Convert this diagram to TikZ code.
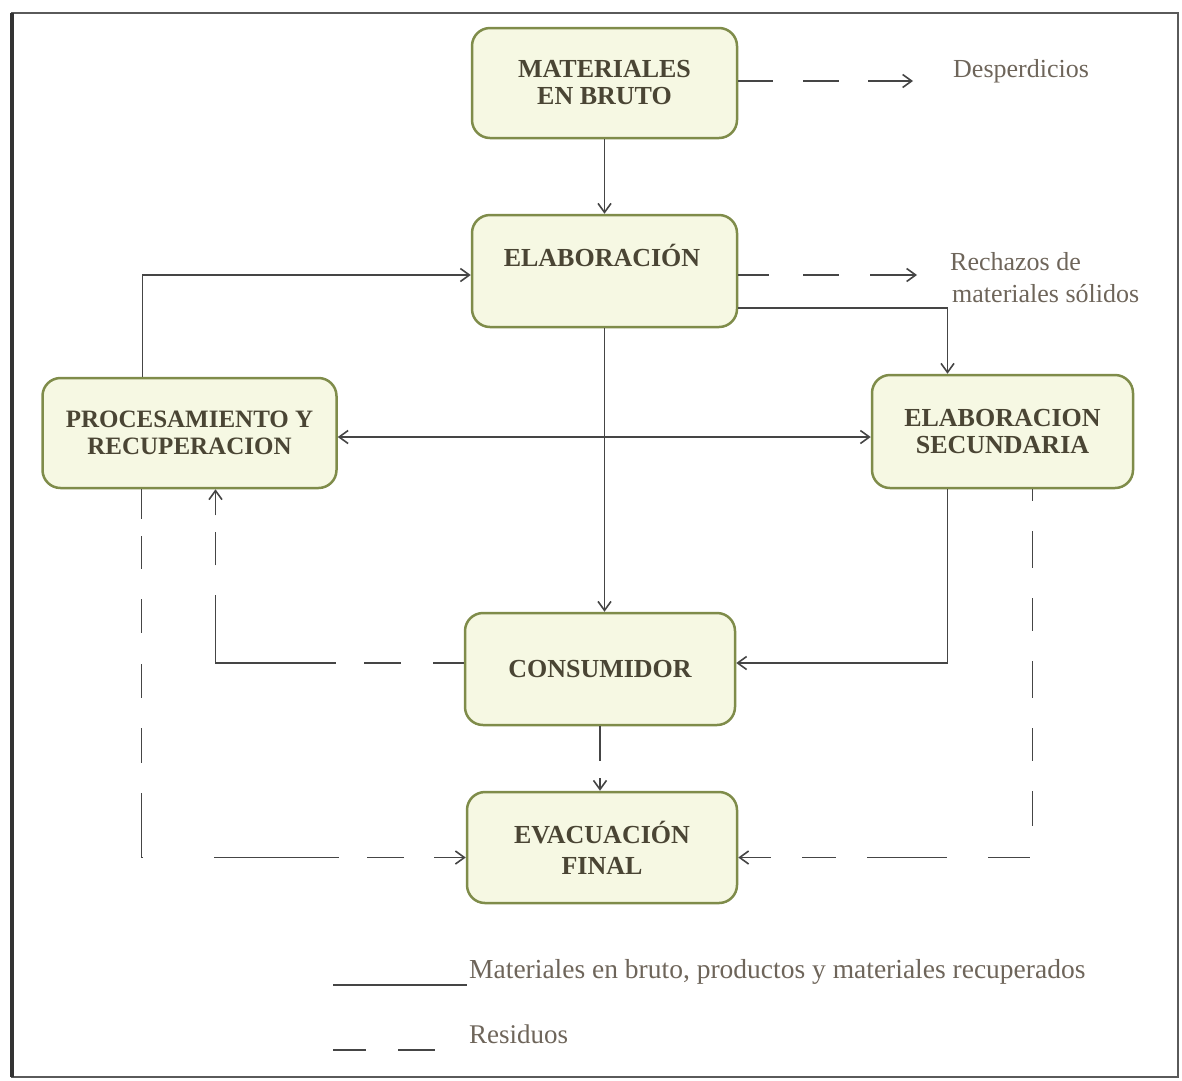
\documentclass[tikz,border=0pt]{standalone}
\usepackage{fontspec}
\setmainfont{Liberation Serif}
\usetikzlibrary{arrows.meta}
\definecolor{boxfill}{HTML}{F6F8E3}
\definecolor{boxedge}{HTML}{7F8C4A}
\definecolor{boxink}{HTML}{4A4534}
\definecolor{noteink}{HTML}{6E655A}
\definecolor{wire}{HTML}{454545}
\definecolor{framegray}{HTML}{5A5A5A}
\begin{document}
\begin{tikzpicture}[x=1pt,y=-1pt,
  stage/.style={draw=boxedge, line width=2.5pt, fill=boxfill, rounded corners=18pt,
    inner sep=0pt, align=center, text=boxink,
    font=\fontsize{26pt}{27pt}\selectfont\bfseries},
  stagetext/.style={inner sep=0pt, align=center, text=boxink,
    font=\fontsize{26pt}{27pt}\selectfont\bfseries},
  note/.style={inner sep=0pt, anchor=base west, text=noteink,
    font=\fontsize{26pt}{27pt}\selectfont},
  wire/.style={draw=wire, line width=1.6pt},
  flow/.style={wire, -{Straight Barb[length=9pt,width=13pt,line width=1.6pt]}},
  twoway/.style={wire, {Straight Barb[length=9pt,width=13pt,line width=1.6pt]}-{Straight Barb[length=9pt,width=13pt,line width=1.6pt]}}
]
\useasboundingbox (0,0) rectangle (1182,1080);

% outer frame
\draw[draw=framegray, line width=2pt] (12,13) rectangle (1178,1077);
\draw[draw=black!80, line width=3.5pt] (12,13) -- (12,1077);

% stages
\node[stage, minimum width=265pt, minimum height=110pt] (mat) at (604.5,83) {MATERIALES\\EN BRUTO};
\node[stage, minimum width=265pt, minimum height=112pt] (elab) at (604.5,271) {};
\node[stagetext] (elabtxt) at (602,255) {ELABORACIÓN};
\node[stage, minimum width=294pt, minimum height=110pt, font=\fontsize{25pt}{27pt}\selectfont\bfseries] (proc) at (189.5,433) {PROCESAMIENTO Y\\RECUPERACION};
\node[stage, minimum width=261pt, minimum height=113pt] (esec) at (1002.5,431.5) {ELABORACION\\SECUNDARIA};
\node[stage, minimum width=270pt, minimum height=112pt] (cons) at (600,669) {CONSUMIDOR};
\node[stage, minimum width=270pt, minimum height=111pt, font=\fontsize{26pt}{31pt}\selectfont\bfseries] (evac) at (602,847.5) {EVACUACIÓN\\FINAL};

% waste labels
\node[note] (desp) at (953,77) {Desperdicios};
\node[note] (rech1) at (950,270) {Rechazos de};
\node[note] (rech2) at (952,302) {materiales sólidos};
\coordinate (despEnd) at (913,81);
\coordinate (rechEnd) at (917,275);

% material flows
\draw[flow] (mat.south) -- (elab.north);
\draw[flow] (elab.south) -- (elab.south |- cons.north);
\draw[flow] ([xshift=-47pt]proc.north) |- ([yshift=-4pt]elab.west);
\draw[twoway] ([yshift=-4pt]proc.east) -- ([yshift=-4pt]proc.east -| esec.west);
\draw[flow] ([yshift=-37pt]elab.east) -| ([xshift=-55pt]esec.north);
\draw[flow] ([xshift=-55pt]esec.south) |- ([yshift=6pt]cons.east);

% waste flows
\draw[flow, dash pattern=on 35pt off 30pt on 36pt off 29pt on 50pt] (mat.east |- despEnd) -- (despEnd);
\draw[flow, dash pattern=on 31pt off 34pt on 36pt off 31pt on 50pt] ([yshift=-4pt]elab.east) -- (rechEnd);
\draw[flow, dash pattern=on 31pt off 32pt on 37pt off 28pt on 188pt off 30pt on 33pt off 17pt on 40pt]
  ([yshift=6pt]cons.west) -| ([xshift=26pt]proc.south);
\draw[flow, dash pattern=on 35pt off 17pt on 30pt] (cons.south) -- (cons.south |- evac.north);
\draw[flow, dash pattern=on 30pt off 17pt on 33pt off 30pt on 34pt off 31pt on 34pt off 30pt on 35pt off 30pt on 66pt off 71pt on 125pt off 28pt on 37pt off 30pt on 40pt]
  ([xshift=-48pt]proc.south) |- ([yshift=-10pt]evac.west);
\draw[flow, dash pattern=on 12pt off 30pt on 37pt off 30pt on 33pt off 30pt on 37pt off 30pt on 33pt off 30pt on 35pt off 34pt on 42pt off 41pt on 80pt off 31pt on 34pt off 31pt on 40pt]
  ([xshift=30pt]esec.south) |- ([yshift=-10pt]evac.east);

% legend
\coordinate (solidA) at (333,985);
\coordinate (solidB) at (467,985);
\coordinate (dashA) at (333,1050);
\coordinate (dashB) at (435,1050);
\draw[wire] (solidA) -- (solidB);
\draw[wire, dash pattern=on 33pt off 32pt on 40pt] (dashA) -- (dashB);
\node[note, font=\fontsize{27.5pt}{28pt}\selectfont] (legsolid) at (469,978) {Materiales en bruto, productos y materiales recuperados};
\node[note, font=\fontsize{27pt}{28pt}\selectfont] (legdash) at (469,1043) {Residuos};
\end{tikzpicture}
\end{document}
